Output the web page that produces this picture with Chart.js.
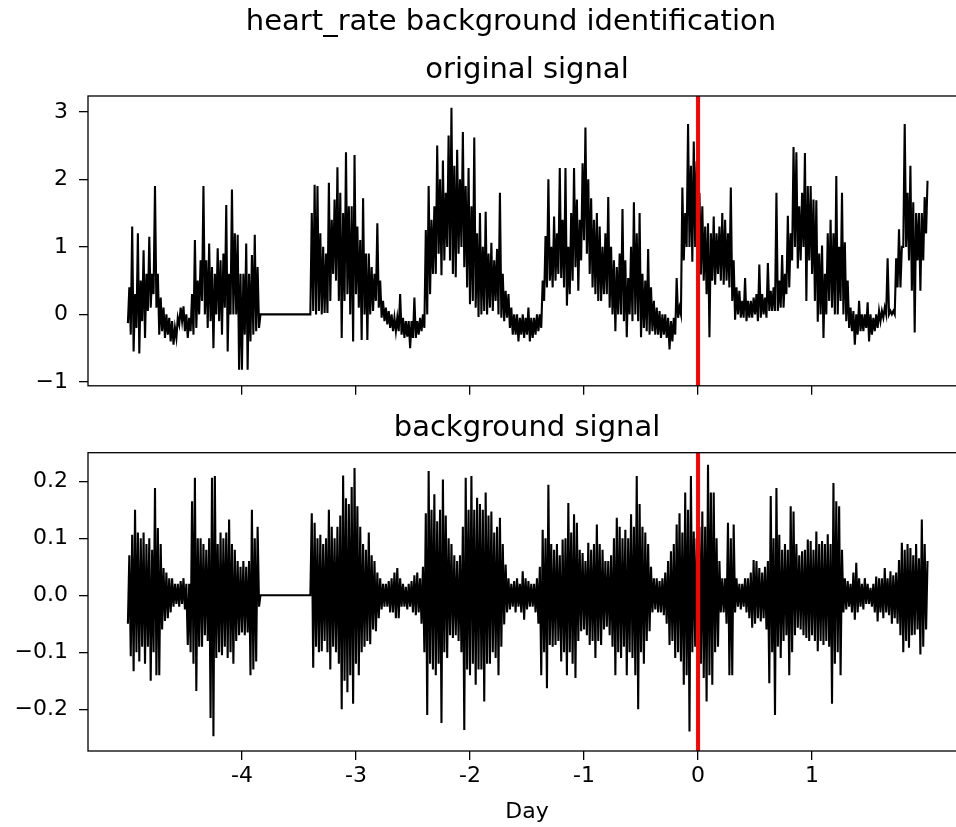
<!DOCTYPE html>
<html><head><meta charset="utf-8">
<script src="https://cdn.jsdelivr.net/npm/chart.js@4.4.1/dist/chart.umd.min.js"></script>
<style>
html,body{margin:0;padding:0;width:956px;height:827px;overflow:hidden;background:#fff;}
#wrapA{position:absolute;left:0;top:0;width:1022px;height:410px;}
#wrapB{position:absolute;left:0;top:410px;width:1022px;height:417px;}
</style></head><body>
<div id="wrapA"><canvas id="cA" width="1022" height="410"></canvas></div>
<div id="wrapB"><canvas id="cB" width="1022" height="417"></canvas></div>
<script>
const suptitle = 'heart_rate background identification';
const topTitle = 'original signal';
const bottomTitle = 'background signal';
const xLabel = 'Day';
const xTicks = [-4, -3, -2, -1, 0, 1];
const topYTicks = [-1, 0, 1, 2, 3];
const bottomYTicks = [-0.2, -0.1, 0.0, 0.1, 0.2];
const eventDay = 0;
const sampleStepDay = 0.025;   // one bin = 0.025 day; each bin has a low reading then a high reading
const segAStartDay = -5.0;
const segBStartDay = -3.4;

// original signal, segment A (-5.0 .. -3.85 day)
const originalHighA = [0.40,1.30,0.30,1.20,0.50,0.95,0.60,1.15,0.60,1.90,
0.60,0.25,0.10,0.00,-0.05,-0.10,-0.20,-0.05,0.10,0.12,
0.00,-0.05,0.30,1.10,0.50,0.80,1.90,0.80,1.05,0.70,
0.60,0.98,0.80,0.90,1.62,0.60,1.85,1.20,1.18,0.60,
0.60,1.05,0.60,0.88,1.18,0.70,0.00];
const originalLowA = [-0.13,-0.30,-0.55,-0.20,-0.58,-0.10,-0.35,0.05,0.10,0.30,
0.10,-0.30,-0.25,-0.35,-0.30,-0.40,-0.45,-0.35,-0.15,-0.10,
-0.25,-0.35,-0.25,-0.30,-0.20,0.00,0.20,0.00,-0.20,-0.10,
-0.50,0.00,-0.10,-0.30,0.10,-0.55,0.00,0.00,0.00,-0.82,
-0.82,-0.30,-0.82,-0.40,-0.30,-0.25,-0.20];

// original signal, segment B (-3.4 .. 2.0 day)
const originalHighB = [1.50,1.92,1.90,1.20,1.00,0.90,1.95,1.40,1.70,2.18,
1.80,1.50,2.40,1.60,1.60,2.36,1.30,1.10,1.72,0.90,
0.90,0.70,0.60,1.35,0.50,0.20,0.10,0.05,0.00,-0.05,
-0.05,0.30,-0.05,-0.10,-0.10,-0.10,0.25,-0.10,-0.05,0.00,
1.25,1.90,1.40,1.60,2.50,2.00,2.28,1.80,2.65,3.06,
2.20,2.44,2.00,2.70,1.90,2.17,1.60,2.62,1.20,1.50,
1.00,1.52,0.90,1.06,0.80,0.97,1.80,0.60,0.35,0.30,
0.10,0.00,0.00,-0.05,0.00,-0.05,0.10,-0.05,-0.05,0.00,
0.00,0.50,1.16,2.00,1.00,1.45,1.20,2.17,1.40,2.17,
1.00,1.50,2.17,1.70,1.40,2.24,2.77,2.00,1.72,1.40,
1.50,1.30,1.00,1.20,1.74,1.00,0.80,0.70,0.90,1.56,
0.80,0.54,1.00,1.66,1.20,1.50,0.60,0.50,0.97,0.40,
0.20,0.10,0.05,0.00,0.00,-0.05,-0.10,-0.05,0.54,0.10,
1.88,1.50,2.82,2.20,2.56,2.27,1.80,1.60,1.30,1.35,
1.20,1.45,1.20,1.30,1.50,1.40,1.20,1.88,0.80,0.40,
0.35,0.20,0.54,0.20,0.20,0.25,0.30,0.74,0.30,0.25,
0.76,0.35,0.40,1.80,0.50,0.88,0.60,1.46,1.20,2.48,
2.40,1.60,1.80,2.39,1.90,1.90,1.70,1.69,0.90,1.02,
0.60,1.20,1.40,1.20,2.05,1.00,1.80,1.07,0.50,0.10,
0.05,0.00,0.20,0.00,0.00,0.18,0.00,-0.05,0.00,0.05,
0.05,0.10,0.83,0.05,0.05,0.83,1.26,1.00,2.82,1.80,
2.20,1.66,1.50,1.50,1.50,1.74,1.98];
const originalLowB = [0.00,0.05,0.00,0.05,0.00,0.02,0.02,0.20,0.60,0.50,
0.20,-0.35,0.20,0.30,0.00,-0.40,0.30,0.10,-0.38,0.00,
-0.38,0.00,0.05,0.20,0.10,-0.05,-0.10,-0.15,-0.20,-0.25,
-0.25,-0.25,-0.30,-0.35,-0.33,-0.50,-0.35,-0.35,-0.30,-0.25,
-0.20,0.00,0.30,0.60,0.60,0.90,0.58,0.80,1.00,0.80,
0.60,0.55,0.90,1.00,0.70,0.40,0.15,0.20,0.10,-0.04,
0.00,0.05,0.00,0.10,0.05,0.20,0.00,-0.05,-0.10,-0.05,
-0.20,-0.30,-0.30,-0.40,-0.30,-0.35,-0.30,-0.40,-0.35,-0.30,
-0.25,-0.20,0.20,0.40,0.50,0.40,0.50,0.60,0.54,0.40,
0.13,0.30,0.50,0.70,0.35,0.80,1.10,0.90,0.60,0.40,
0.30,0.20,0.20,0.30,0.30,0.10,0.00,-0.25,0.00,0.00,
-0.10,-0.34,0.00,-0.10,0.00,-0.10,-0.34,-0.20,-0.25,-0.30,
-0.25,-0.30,-0.30,-0.35,-0.30,-0.35,-0.52,-0.40,-0.30,-0.05,
0.00,0.80,1.00,1.00,0.78,1.00,1.00,0.59,0.50,0.30,
-0.34,0.50,0.44,0.60,0.50,0.44,0.50,0.40,0.20,-0.08,
0.00,-0.05,-0.05,-0.10,-0.05,-0.05,0.00,-0.10,-0.05,0.00,
-0.05,0.05,0.05,0.05,0.05,0.10,0.10,0.30,0.40,0.80,
1.00,0.68,0.80,1.00,0.20,0.80,0.60,0.20,-0.11,0.00,
-0.35,0.00,0.20,0.10,0.00,0.00,0.20,0.00,-0.10,-0.20,
-0.25,-0.45,-0.30,-0.25,-0.25,-0.20,-0.40,-0.30,-0.25,-0.20,
-0.10,-0.05,0.00,0.00,0.00,0.00,0.40,0.40,1.00,1.00,
0.80,0.35,-0.27,0.80,0.35,0.80,1.20];

// background signal, segment A
const backgroundHighA = [0.07,0.106,0.15,0.11,0.10,0.11,0.09,0.10,0.08,0.188,
0.118,0.09,0.048,0.04,0.03,0.03,0.02,0.02,0.025,0.03,
0.02,0.02,0.165,0.206,0.10,0.10,0.09,0.08,0.10,0.206,
0.209,0.09,0.11,0.10,0.11,0.133,0.09,0.08,0.06,0.05,
0.06,0.05,0.06,0.15,0.10,0.12,0.00];
const backgroundLowA = [-0.05,-0.107,-0.133,-0.10,-0.116,-0.09,-0.12,-0.09,-0.15,-0.10,
-0.14,-0.14,-0.06,-0.045,-0.04,-0.03,-0.02,-0.015,-0.02,-0.015,
-0.025,-0.087,-0.10,-0.12,-0.168,-0.09,-0.09,-0.07,-0.08,-0.215,
-0.247,-0.11,-0.10,-0.105,-0.09,-0.11,-0.10,-0.12,-0.08,-0.07,
-0.065,-0.07,-0.065,-0.14,-0.13,-0.116,-0.02];

// background signal, segment B
const backgroundHighB = [0.144,0.127,0.10,0.106,0.09,0.10,0.15,0.12,0.10,0.12,
0.14,0.21,0.17,0.16,0.19,0.223,0.156,0.12,0.09,0.08,
0.11,0.07,0.06,0.04,0.03,0.02,0.02,0.025,0.03,0.04,
0.048,0.03,0.02,0.015,0.02,0.025,0.035,0.04,0.03,0.05,
0.144,0.218,0.15,0.177,0.13,0.15,0.203,0.14,0.10,0.09,
0.07,0.06,0.07,0.12,0.206,0.15,0.209,0.15,0.171,0.16,
0.15,0.18,0.14,0.147,0.11,0.12,0.136,0.09,0.054,0.03,
0.02,0.025,0.03,0.02,0.042,0.03,0.025,0.02,0.02,0.03,
0.05,0.115,0.10,0.194,0.09,0.08,0.09,0.07,0.098,0.10,
0.162,0.11,0.142,0.127,0.08,0.074,0.06,0.092,0.08,0.09,
0.124,0.09,0.08,0.06,0.06,0.07,0.10,0.136,0.12,0.10,
0.115,0.10,0.142,0.12,0.209,0.16,0.12,0.11,0.09,0.05,
0.03,0.03,0.025,0.03,0.04,0.06,0.077,0.09,0.124,0.144,
0.11,0.18,0.15,0.209,0.112,0.10,0.12,0.147,0.12,0.229,
0.18,0.18,0.10,0.06,0.03,0.03,0.127,0.10,0.124,0.03,
0.02,0.02,0.03,0.03,0.04,0.062,0.06,0.048,0.04,0.05,
0.06,0.174,0.10,0.188,0.106,0.08,0.09,0.08,0.156,0.147,
0.09,0.07,0.077,0.08,0.098,0.095,0.08,0.112,0.09,0.095,
0.09,0.107,0.09,0.197,0.165,0.156,0.08,0.03,0.025,0.02,
0.04,0.057,0.03,0.02,0.03,0.02,0.013,0.02,0.033,0.03,
0.03,0.048,0.03,0.042,0.035,0.04,0.062,0.092,0.08,0.09,
0.083,0.07,0.09,0.065,0.133,0.09,0.06];
const backgroundLowB = [0.00,-0.127,-0.09,-0.10,-0.098,-0.08,-0.10,-0.13,-0.09,-0.10,
-0.12,-0.20,-0.15,-0.17,-0.14,-0.19,-0.12,-0.14,-0.10,-0.09,
-0.08,-0.086,-0.06,-0.063,-0.04,-0.025,-0.02,-0.02,-0.03,-0.03,
-0.04,-0.04,-0.02,-0.02,-0.025,-0.02,-0.03,-0.035,-0.03,-0.05,
-0.10,-0.21,-0.12,-0.13,-0.14,-0.12,-0.224,-0.10,-0.11,-0.07,
-0.075,-0.07,-0.08,-0.10,-0.236,-0.13,-0.14,-0.12,-0.157,-0.13,
-0.13,-0.186,-0.12,-0.12,-0.10,-0.11,-0.14,-0.09,-0.051,-0.03,
-0.025,-0.02,-0.03,-0.02,-0.03,-0.043,-0.025,-0.02,-0.02,-0.03,
-0.05,-0.14,-0.10,-0.163,-0.087,-0.09,-0.087,-0.08,-0.116,-0.10,
-0.14,-0.10,-0.12,-0.145,-0.08,-0.063,-0.06,-0.07,-0.087,-0.08,
-0.11,-0.08,-0.087,-0.06,-0.055,-0.07,-0.09,-0.14,-0.10,-0.11,
-0.09,-0.14,-0.10,-0.11,-0.14,-0.20,-0.10,-0.12,-0.08,-0.063,
-0.03,-0.025,-0.03,-0.03,-0.035,-0.05,-0.087,-0.08,-0.11,-0.10,
-0.116,-0.157,-0.14,-0.239,-0.10,-0.09,-0.10,-0.12,-0.145,-0.186,
-0.14,-0.157,-0.10,-0.09,-0.03,-0.03,-0.05,-0.14,-0.14,-0.03,
-0.02,-0.025,-0.02,-0.03,-0.04,-0.057,-0.05,-0.04,-0.046,-0.04,
-0.06,-0.154,-0.10,-0.21,-0.09,-0.11,-0.08,-0.07,-0.14,-0.10,
-0.07,-0.057,-0.06,-0.07,-0.075,-0.08,-0.07,-0.08,-0.098,-0.08,
-0.087,-0.08,-0.09,-0.19,-0.12,-0.10,-0.14,-0.03,-0.025,-0.02,
-0.03,-0.043,-0.03,-0.02,-0.025,-0.015,-0.015,-0.02,-0.03,-0.046,
-0.03,-0.04,-0.03,-0.035,-0.05,-0.04,-0.05,-0.07,-0.10,-0.08,
-0.092,-0.07,-0.069,-0.06,-0.104,-0.09,-0.06];

const xRange = [-5.35, 2.35];
const topYRange = [-1.058, 3.235];
const bottomYRange = [-0.273, 0.250];

// each bin contributes its low reading at the bin start and its high reading half a bin later
function buildPoints(startDay, highs, lows) {
  const pts = [];
  highs.forEach((h, i) => {
    const x = startDay + i * sampleStepDay;
    pts.push({x: x, y: lows[i]}, {x: x + sampleStepDay / 2, y: h});
  });
  return pts;
}
const originalPoints = buildPoints(segAStartDay, originalHighA, originalLowA)
  .concat(buildPoints(segBStartDay, originalHighB, originalLowB));
const backgroundPoints = buildPoints(segAStartDay, backgroundHighA, backgroundLowA)
  .concat(buildPoints(segBStartDay, backgroundHighB, backgroundLowB));

Chart.defaults.font.family = "'DejaVu Sans', sans-serif";
Chart.defaults.color = '#000';

const framePlugin = {
  id: 'frame',
  afterDraw(chart) {
    const {ctx, chartArea: a} = chart;
    ctx.save();
    ctx.strokeStyle = '#000';
    ctx.lineWidth = 1.3;
    ctx.strokeRect(a.left, a.top, a.right - a.left, a.bottom - a.top);
    ctx.restore();
  }
};
const eventLinePlugin = {
  id: 'eventLine',
  afterDatasetsDraw(chart) {
    const {ctx, chartArea: a} = chart;
    const px = chart.scales.x.getPixelForValue(eventDay);
    ctx.save();
    ctx.strokeStyle = '#ff0000';
    ctx.lineWidth = 4;
    ctx.beginPath();
    ctx.moveTo(px, a.top);
    ctx.lineTo(px, a.bottom);
    ctx.stroke();
    ctx.restore();
  }
};

function yFormatter(decimals) {
  return (v) => (v < 0 ? '\u2212' : '') + Math.abs(v).toFixed(decimals);
}

function makeChart(canvas, points, yRange, yTicks, decimals, titleOpts, subtitleOpts, showXLabels, xAxisHeight) {
  return new Chart(canvas, {
    type: 'line',
    data: {datasets: [{data: points, borderColor: '#000', borderWidth: 2.1, pointRadius: 0, fill: false, tension: 0, yAxisID: 'y'}]},
    options: {
      responsive: false,
      animation: false,
      devicePixelRatio: 1,
      layout: {padding: {left: 0, right: 0, top: 0, bottom: 0}},
      plugins: {
        legend: {display: false},
        tooltip: {enabled: false},
        title: titleOpts,
        subtitle: subtitleOpts
      },
      scales: {
        x: {
          type: 'linear', min: xRange[0], max: xRange[1],
          afterBuildTicks: (s) => { s.ticks = xTicks.map(v => ({value: v})); },
          afterFit: (s) => { s.height = xAxisHeight; },
          border: {display: false},
          grid: {drawOnChartArea: false, drawTicks: true, tickLength: 9, color: '#000', lineWidth: 1.3},
          ticks: {display: showXLabels, font: {size: 22}, color: '#000', padding: 3, maxRotation: 0, autoSkip: false,
                  callback: (v) => String(v)},
          title: {display: showXLabels, text: xLabel, font: {size: 22}, color: '#000', padding: {top: 0, bottom: 2}}
        },
        y: {
          type: 'linear', position: 'left', min: yRange[0], max: yRange[1],
          afterBuildTicks: (s) => { s.ticks = yTicks.map(v => ({value: v})); },
          afterFit: (s) => { s.width = 88; },
          border: {display: false},
          grid: {drawOnChartArea: false, drawTicks: true, tickLength: 9, color: '#000', lineWidth: 1.3},
          ticks: {font: {size: 22}, color: '#000', padding: 11, callback: yFormatter(decimals)}
        },
        yRight: {
          type: 'linear', position: 'right', display: true,
          afterFit: (s) => { s.width = 56; },
          border: {display: false},
          grid: {display: false, drawTicks: false},
          ticks: {display: false}
        }
      }
    },
    plugins: [eventLinePlugin, framePlugin]
  });
}

const titleFont = {size: 29, weight: 'normal'};
makeChart(document.getElementById('cA'), originalPoints, topYRange, topYTicks, 0,
  {display: true, text: suptitle, font: titleFont, color: '#000', fullSize: true, padding: {top: 4.6, bottom: 10}},
  {display: true, text: topTitle, font: titleFont, color: '#000', fullSize: false, padding: {top: 3.2, bottom: 8.6}},
  false, 16);
makeChart(document.getElementById('cB'), backgroundPoints, bottomYRange, bottomYTicks, 1,
  {display: true, text: bottomTitle, font: titleFont, color: '#000', fullSize: false, padding: {top: 0.6, bottom: 7.3}},
  {display: false},
  true, 76);
</script>
</body></html>
